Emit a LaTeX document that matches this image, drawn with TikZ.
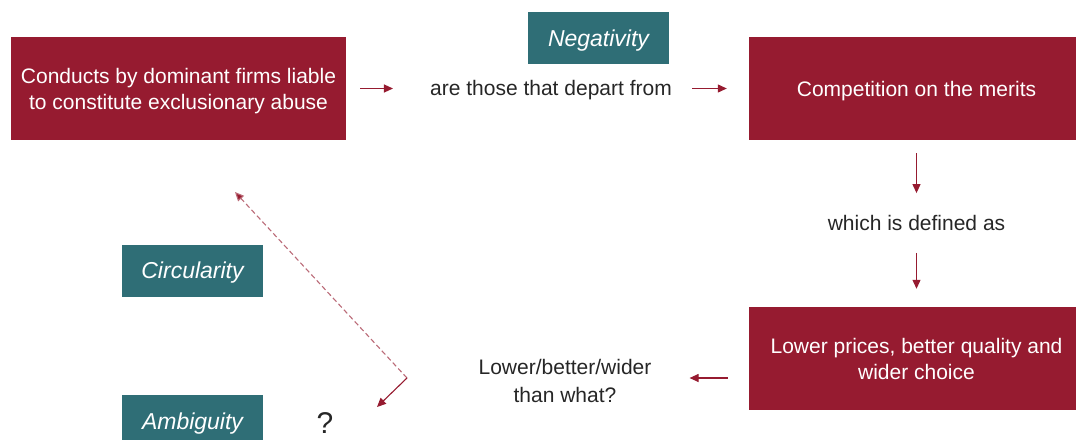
\documentclass[tikz,border=0pt]{standalone}
\usepackage{fontspec}
\setmainfont{Liberation Sans}
\usetikzlibrary{arrows.meta}

\definecolor{boxred}{HTML}{961B30}
\definecolor{boxteal}{HTML}{2F6E76}
\definecolor{txtgray}{HTML}{262626}

\tikzset{
  redbox/.style={fill=boxred, text=white, minimum width=335pt, minimum height=103pt,
    align=center, inner sep=0pt, text depth=0pt, font=\fontsize{21}{26}\selectfont},
  tealbox/.style={fill=boxteal, text=white, minimum width=141pt, minimum height=52pt,
    inner sep=0pt, text depth=0pt, font=\fontsize{23}{26}\selectfont\itshape},
  plain/.style={text=txtgray, align=center, inner sep=0pt, font=\fontsize{21}{28}\selectfont},
  arr/.style={draw=boxred, line width=1.1pt, -{Triangle[length=9pt,width=8pt,fill=boxred]}},
}

\begin{document}
\begin{tikzpicture}[x=1pt,y=-1pt]
    \clip (0,0) rectangle (1076,439);

    \node[redbox] (conducts) at (178.5,88.5) {Conducts by dominant firms liable\\to constitute exclusionary abuse};
    \node[plain] (depart) at (551,90) {are those that depart from};
    \node[redbox] (merits) at (916.5,88.5) {Competition on the merits};
    \node[plain] (defined) at (916.5,223) {which is defined as};
    \node[redbox] (prices) at (916.5,358.5) {Lower prices, better quality and\\wider choice};
    \node[plain] (than) at (565,381) {Lower/better/wider\\than what?};
    \node[plain, font=\fontsize{30}{32}\selectfont] (quest) at (325,423) {?};

    \node[tealbox] (neg) at (598.5,38) {Negativity};
    \node[tealbox] (circ) at (192.5,270.5) {Circularity};
    \node[tealbox] (ambig) at (192.5,421) {Ambiguity};

    \draw[arr, shorten <=14pt, shorten >=37pt] (conducts.east) -- (conducts.east -| depart.west);
    \draw[arr, shorten <=20pt, shorten >=22pt] (depart.east |- merits) -- (merits.west);
    \draw[arr, shorten <=13pt, shorten >=22pt] (merits.south) -- (defined.north);
    \draw[arr, shorten <=22pt, shorten >=18pt] (defined.south) -- (prices.north);
    \draw[arr, shorten <=21pt, shorten >=38pt] ([yshift=3pt]prices.west |- than) -- ([yshift=3pt]than.east);

    \coordinate (kink) at (407,378);
    \coordinate (backtip) at (235,192);
    \coordinate (questtip) at (377,407);
    \draw[arr, draw=boxred!65, dash pattern=on 5pt off 3pt] (kink) -- (backtip);
    \draw[arr] (kink) -- (questtip);
\end{tikzpicture}
\end{document}
